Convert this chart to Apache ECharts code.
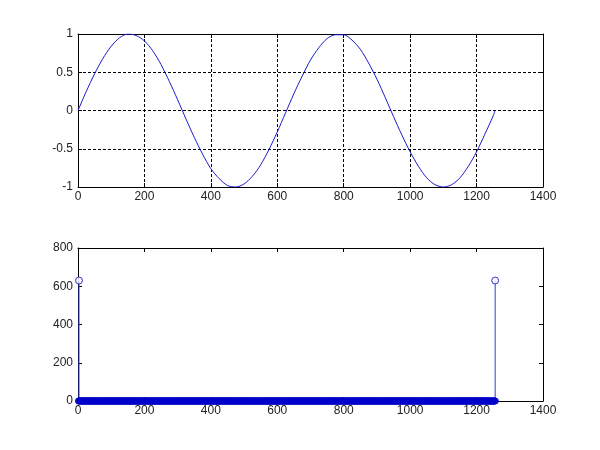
<!DOCTYPE html>
<html>
<head>
<meta charset="utf-8">
<script src="https://cdn.jsdelivr.net/npm/echarts@6/dist/echarts.min.js"></script>
<style>
  html, body { margin: 0; padding: 0; background: #fff; }
  #chart { width: 600px; height: 450px; }
</style>
</head>
<body>
<div id="chart"></div>
<script>
// top plot: signal samples (every 25 on x)
var sigX = [0, 25, 50, 75, 100, 125, 150, 175, 200, 225, 250, 275, 300, 325, 350, 375,
            400, 425, 450, 475, 500, 525, 550, 575, 600, 625, 650, 675, 700, 725, 750, 775,
            800, 825, 850, 875, 900, 925, 950, 975, 1000, 1025, 1050, 1075, 1100, 1125,
            1150, 1175, 1200, 1225, 1250, 1256];
var sigY = [0, 0.25, 0.48, 0.68, 0.84, 0.95, 1.0, 0.98, 0.91, 0.78, 0.6, 0.38, 0.14, -0.11, -0.35, -0.57,
            -0.76, -0.89, -0.98, -1.0, -0.96, -0.86, -0.71, -0.51, -0.28, -0.03, 0.22, 0.45, 0.66, 0.82, 0.94, 0.99,
            0.99, 0.92, 0.8, 0.62, 0.41, 0.17, -0.08, -0.32, -0.54, -0.73, -0.88, -0.97, -1.0, -0.97,
            -0.88, -0.73, -0.54, -0.31, -0.07, 0];

// bottom plot: stem plot, 1257 bins, all near zero except two peaks
var stemCount = 1257;
var peakIdx = [3, 1256];
var peakVal = [630, 630];

var lineData = [];
for (var i = 0; i < sigX.length; i++) {
  lineData.push([sigX[i], sigY[i]]);
}

var stemData = [];
var peakData = [];
for (var k = 1; k <= stemCount; k++) {
  var p = peakIdx.indexOf(k);
  if (p >= 0) {
    peakData.push([k, peakVal[p]]);
  }
  stemData.push([k, p >= 0 ? peakVal[p] : 0]);
}

var txt = { color: '#222', fontFamily: 'Liberation Sans, Arial, sans-serif', fontSize: 12 };
var grid1 = { left: 78, right: 57, top: 34, height: 153 };
var grid2 = { left: 78, right: 57, top: 248, height: 153 };

function plain(v) { return String(v); }

function xAxisOf(gi, pos, showLabel, showSplit) {
  return {
    type: 'value', gridIndex: gi, position: pos,
    min: 0, max: 1400, interval: 200,
    axisLine: { show: true, onZero: false, lineStyle: { color: '#000', width: 1 } },
    axisTick: { show: true, inside: true, length: 4, lineStyle: { color: '#000' } },
    axisLabel: Object.assign({ show: showLabel, margin: 4, formatter: plain }, txt),
    splitLine: { show: showSplit, lineStyle: { color: '#000', type: [3, 2], width: 1 } }
  };
}
function yAxisOf(gi, pos, min, max, interval, showLabel, showSplit) {
  return {
    type: 'value', gridIndex: gi, position: pos,
    min: min, max: max, interval: interval,
    axisLine: { show: true, onZero: false, lineStyle: { color: '#000', width: 1 } },
    axisTick: { show: true, inside: true, length: 4, lineStyle: { color: '#000' } },
    axisLabel: Object.assign({ show: showLabel, margin: 5, formatter: plain }, txt),
    splitLine: { show: showSplit, lineStyle: { color: '#000', type: [3, 2], width: 1 } }
  };
}

var option = {
  animation: false,
  backgroundColor: '#fff',
  grid: [grid1, grid2],
  xAxis: [
    xAxisOf(0, 'bottom', true, true),
    xAxisOf(0, 'top', false, false),
    xAxisOf(1, 'bottom', true, false),
    xAxisOf(1, 'top', false, false)
  ],
  yAxis: [
    yAxisOf(0, 'left', -1, 1, 0.5, true, true),
    yAxisOf(0, 'right', -1, 1, 0.5, false, false),
    yAxisOf(1, 'left', 0, 800, 200, true, false),
    yAxisOf(1, 'right', 0, 800, 200, false, false)
  ],
  series: [
    {
      type: 'line', xAxisIndex: 0, yAxisIndex: 0,
      data: lineData, smooth: 0.3, showSymbol: false,
      lineStyle: { color: '#1a1acc', width: 1 }
    },
    {
      // stems
      type: 'bar', xAxisIndex: 2, yAxisIndex: 2,
      data: stemData, barWidth: 1,
      itemStyle: { color: '#2a3ee0' }
    },
    {
      // unfilled markers along the baseline (they merge into a thick band)
      type: 'scatter', xAxisIndex: 2, yAxisIndex: 2,
      data: stemData, symbol: 'circle', symbolSize: 6, clip: false,
      itemStyle: { color: 'rgba(0,0,0,0)', borderColor: '#0000cc', borderWidth: 1 }
    },
    {
      // hollow markers on the two peaks
      type: 'scatter', xAxisIndex: 2, yAxisIndex: 2,
      data: peakData, symbol: 'circle', symbolSize: 7, clip: false,
      itemStyle: { color: '#fff', borderColor: '#2020d0', borderWidth: 1 }
    }
  ]
};

var myChart = echarts.init(document.getElementById('chart'));
myChart.setOption(option);
</script>
</body>
</html>
